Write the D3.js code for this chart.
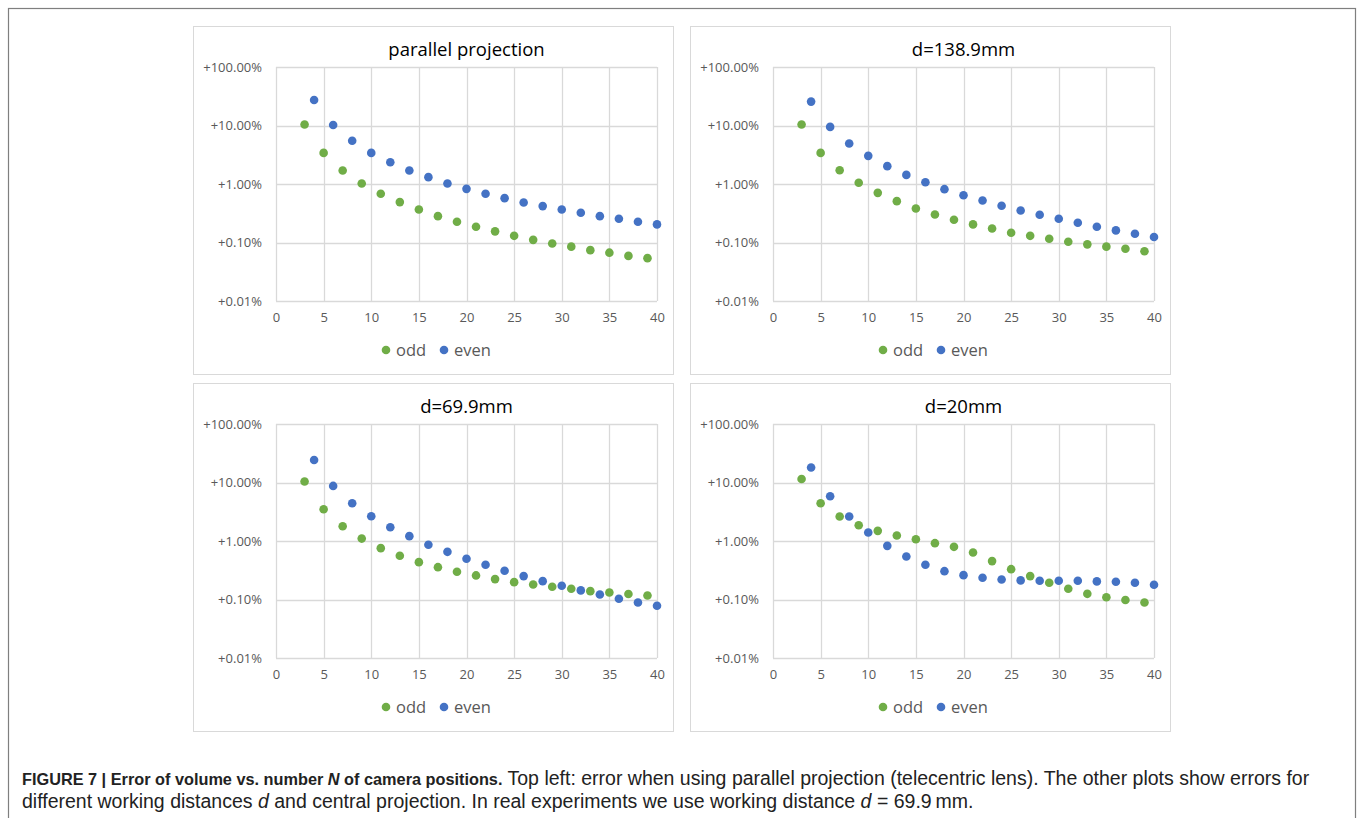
<!DOCTYPE html>
<html>
<head>
<meta charset="utf-8">
<script src="https://cdn.jsdelivr.net/npm/d3@7"></script>
<style>
  body { margin: 0; background: #fff; }
  svg { display: block; }
  .tick text { fill: #595959; font-family: "Open Sans", sans-serif; font-size: 13px; }
  .title { fill: #000; font-family: "Open Sans", sans-serif; font-size: 18.5px; }
  .legend { fill: #595959; font-family: "Open Sans", sans-serif; font-size: 16.5px; }
  .caption { fill: #222; font-family: "Liberation Sans", Arial, sans-serif; font-size: 19.5px; }
  .caption .b { font-weight: bold; font-size: 16.3px; }
</style>
</head>
<body>
<svg width="1357" height="818"></svg>
<script>
// camera position counts
const oddN  = [3, 5, 7, 9, 11, 13, 15, 17, 19, 21, 23, 25, 27, 29, 31, 33, 35, 37, 39]
const evenN = [4, 6, 8, 10, 12, 14, 16, 18, 20, 22, 24, 26, 28, 30, 32, 34, 36, 38, 40]

// errors in percent
const parallelOdd  = [10.4, 3.4, 1.70, 1.02, 0.68, 0.49, 0.367, 0.282, 0.226, 0.186, 0.155, 0.130, 0.111, 0.096, 0.085, 0.074, 0.067, 0.059, 0.054]
const parallelEven = [27.3, 10.2, 5.5, 3.4, 2.36, 1.70, 1.31, 1.02, 0.826, 0.68, 0.573, 0.483, 0.419, 0.367, 0.322, 0.282, 0.254, 0.226, 0.204]

const d139Odd  = [10.4, 3.4, 1.72, 1.05, 0.706, 0.509, 0.382, 0.301, 0.245, 0.204, 0.174, 0.147, 0.130, 0.116, 0.103, 0.093, 0.085, 0.078, 0.071]
const d139Even = [25.6, 9.46, 4.91, 3.03, 2.02, 1.43, 1.07, 0.816, 0.644, 0.523, 0.424, 0.353, 0.298, 0.254, 0.217, 0.186, 0.161, 0.141, 0.124]

const d70Odd  = [10.4, 3.49, 1.79, 1.10, 0.755, 0.558, 0.435, 0.357, 0.298, 0.258, 0.223, 0.198, 0.181, 0.165, 0.153, 0.139, 0.132, 0.124, 0.117]
const d70Even = [24.3, 8.74, 4.42, 2.65, 1.72, 1.21, 0.861, 0.653, 0.496, 0.392, 0.310, 0.251, 0.206, 0.172, 0.143, 0.122, 0.103, 0.089, 0.078]

const d20Odd  = [11.5, 4.42, 2.62, 1.86, 1.49, 1.24, 1.07, 0.918, 0.795, 0.637, 0.453, 0.330, 0.251, 0.193, 0.153, 0.125, 0.109, 0.098, 0.089]
const d20Even = [18.0, 5.82, 2.62, 1.40, 0.826, 0.544, 0.392, 0.305, 0.261, 0.235, 0.220, 0.212, 0.209, 0.209, 0.209, 0.204, 0.201, 0.193, 0.179]

const titles = ["parallel projection", "d=138.9mm", "d=69.9mm", "d=20mm"]
const xTicks = [0, 5, 10, 15, 20, 25, 30, 35, 40]
const yTicks = [0.01, 0.1, 1, 10, 100]
const seriesNames = ["odd", "even"]

const panels = [
  { title: titles[0], odd: parallelOdd, even: parallelEven, x: 193, y: 26 },
  { title: titles[1], odd: d139Odd, even: d139Even, x: 690, y: 26 },
  { title: titles[2], odd: d70Odd, even: d70Even, x: 193, y: 383 },
  { title: titles[3], odd: d20Odd, even: d20Even, x: 690, y: 383 }
]

const colors = { odd: "#70ad47", even: "#4472c4" }
const svg = d3.select("svg")

// outer figure frame
svg.append("rect")
  .attr("x", 8.5).attr("y", 8.5)
  .attr("width", 1347).attr("height", 830)
  .attr("fill", "none").attr("stroke", "#7f7f7f").attr("stroke-width", 1.2)

const pw = 480, ph = 348
const m = { left: 83, right: 16, top: 41 }

const x = d3.scaleLinear().domain([0, 40]).range([m.left, pw - m.right])
const y = d3.scaleLog().domain([0.01, 100]).range([m.top + 234, m.top])

const fmt = d => "+" + d.toFixed(2) + "%"

panels.forEach(p => {
  const g = svg.append("g").attr("transform", "translate(" + p.x + "," + p.y + ")")

  g.append("rect")
    .attr("x", 0.5).attr("y", 0.5)
    .attr("width", pw).attr("height", ph)
    .attr("fill", "#fff").attr("stroke", "#d9d9d9")

  // grid
  g.append("g").selectAll("line")
    .data(yTicks).enter().append("line")
    .attr("x1", x(0)).attr("x2", x(40))
    .attr("y1", d => Math.round(y(d)) + 0.5).attr("y2", d => Math.round(y(d)) + 0.5)
    .attr("stroke", "#d9d9d9").attr("stroke-width", 1.3)
  g.append("g").selectAll("line")
    .data(xTicks).enter().append("line")
    .attr("x1", d => Math.round(x(d)) + 0.5).attr("x2", d => Math.round(x(d)) + 0.5)
    .attr("y1", y(100)).attr("y2", y(0.01))
    .attr("stroke", "#d9d9d9").attr("stroke-width", 1.3)

  const xa = g.append("g")
    .attr("transform", "translate(0," + (y(0.01) + 6) + ")")
    .call(d3.axisBottom(x).tickValues(xTicks).tickSize(0).tickPadding(6))
  xa.select(".domain").remove()

  const ya = g.append("g")
    .attr("transform", "translate(" + (x(0) - 8) + ",0)")
    .call(d3.axisLeft(y).tickValues(yTicks).tickFormat(fmt).tickSize(0).tickPadding(6))
  ya.select(".domain").remove()

  g.append("text").attr("class", "title")
    .attr("x", (x(0) + x(40)) / 2).attr("y", 30)
    .attr("text-anchor", "middle")
    .text(p.title)

  g.append("g").selectAll("circle")
    .data(oddN.map((n, i) => [n, p.odd[i]])).enter().append("circle")
    .attr("cx", d => x(d[0])).attr("cy", d => y(d[1]))
    .attr("r", 4.3).attr("fill", colors.odd)
  g.append("g").selectAll("circle")
    .data(evenN.map((n, i) => [n, p.even[i]])).enter().append("circle")
    .attr("cx", d => x(d[0])).attr("cy", d => y(d[1]))
    .attr("r", 4.3).attr("fill", colors.even)

  // legend
  const lg = g.append("g").attr("transform", "translate(0," + (ph - 24) + ")")
  const lx = [193, 251]
  seriesNames.forEach((s, i) => {
    lg.append("circle").attr("cx", lx[i]).attr("cy", 0).attr("r", 4.3).attr("fill", colors[s])
    lg.append("text").attr("class", "legend")
      .attr("x", lx[i] + 10).attr("y", 0).attr("dy", "0.35em")
      .text(s)
  })
})

// caption
const cap = svg.append("text").attr("class", "caption").attr("x", 22).attr("y", 785)
cap.append("tspan").attr("class", "b").text("FIGURE 7 | Error of volume vs. number ")
cap.append("tspan").attr("class", "b").attr("font-style", "italic").text("N")
cap.append("tspan").attr("class", "b").text(" of camera positions.")
cap.append("tspan").text(" Top left: error when using parallel projection (telecentric lens). The other plots show errors for")

const cap2 = svg.append("text").attr("class", "caption").attr("x", 22).attr("y", 808)
cap2.append("tspan").text("different working distances ")
cap2.append("tspan").attr("font-style", "italic").text("d")
cap2.append("tspan").text(" and central projection. In real experiments we use working distance ")
cap2.append("tspan").attr("font-style", "italic").text("d")
cap2.append("tspan").text(" = 69.9\u2009mm.")
</script>
</body>
</html>
